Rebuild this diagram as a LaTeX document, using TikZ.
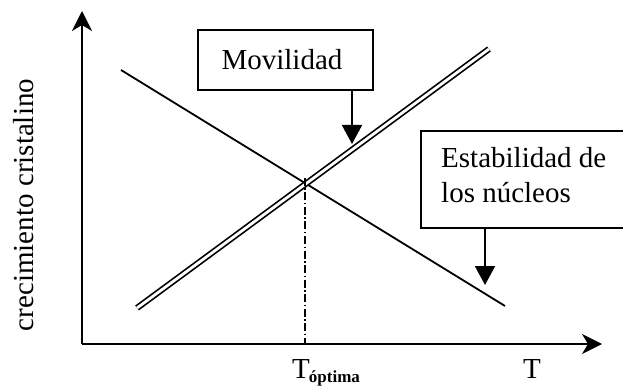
\documentclass[tikz,border=0pt]{standalone}
\usepackage{fontspec}
\setmainfont{Liberation Serif}
\usetikzlibrary{arrows.meta}
\begin{document}
\begin{tikzpicture}[x=1pt,y=-1pt,
  lbl/.style={font=\fontsize{29}{34}\selectfont, inner sep=0pt},
  boxnode/.style={draw, line width=1.6pt},
  axisline/.style={line width=2pt, -{Stealth[length=20pt,width=20pt,inset=6pt]}},
  pointer/.style={line width=1.8pt, -{Triangle[length=19pt,width=20pt]}}]
\useasboundingbox (0,0) rectangle (623,387);
\clip (0,0) rectangle (623,387);
% axes
\coordinate (O) at (82,344);
\coordinate (ytop) at (82,11);
\coordinate (xend) at (602,344);
\draw[axisline] (O) -- (ytop);
\draw[axisline] (O) -- (xend);
% lines
\coordinate (d1) at (121,70);
\coordinate (d2) at (505,306);
\draw[line width=1.8pt] (d1) -- (d2);
\coordinate (m1) at (137,308);
\coordinate (m2) at (489,49);
\draw[line width=1.7pt, double, double distance=2.8pt] (m1) -- (m2);
\coordinate (X) at (305,178);
\coordinate (Xb) at (305,344);
\draw[line width=1.4pt, dash pattern=on 8pt off 2.5pt on 1.5pt off 2.5pt] (X) -- (Xb);
% boxes
\node[boxnode, minimum width=175pt, minimum height=60pt, anchor=center, inner sep=0pt] (mov) at (285.5,60) {};
\node[lbl, anchor=base] (movtxt) at (282,70) {Movilidad};
\node[boxnode, minimum width=230pt, minimum height=97pt, anchor=north west, inner sep=0pt] (est) at (420,130) {};
\node[lbl, anchor=base west] (est1) at (441,168) {Estabilidad de};
\node[lbl, anchor=base west] (est2) at (441,203) {los núcleos};
\coordinate (movtip) at (352,144);
\coordinate (esttip) at (485,285);
\draw[pointer] (mov.south -| movtip) -- (movtip);
\draw[pointer] (est.south -| esttip) -- (esttip);
% labels
\node[lbl, anchor=base west] (topt) at (292,378) {T\kern-1pt\raisebox{-4pt}{\fontsize{17}{17}\selectfont\bfseries óptima}};
\node[lbl, anchor=base] (tlab) at (532,378) {T};
\node[lbl, rotate=90, anchor=base] (ylab) at (33,205) {crecimiento cristalino};
\end{tikzpicture}
\end{document}
